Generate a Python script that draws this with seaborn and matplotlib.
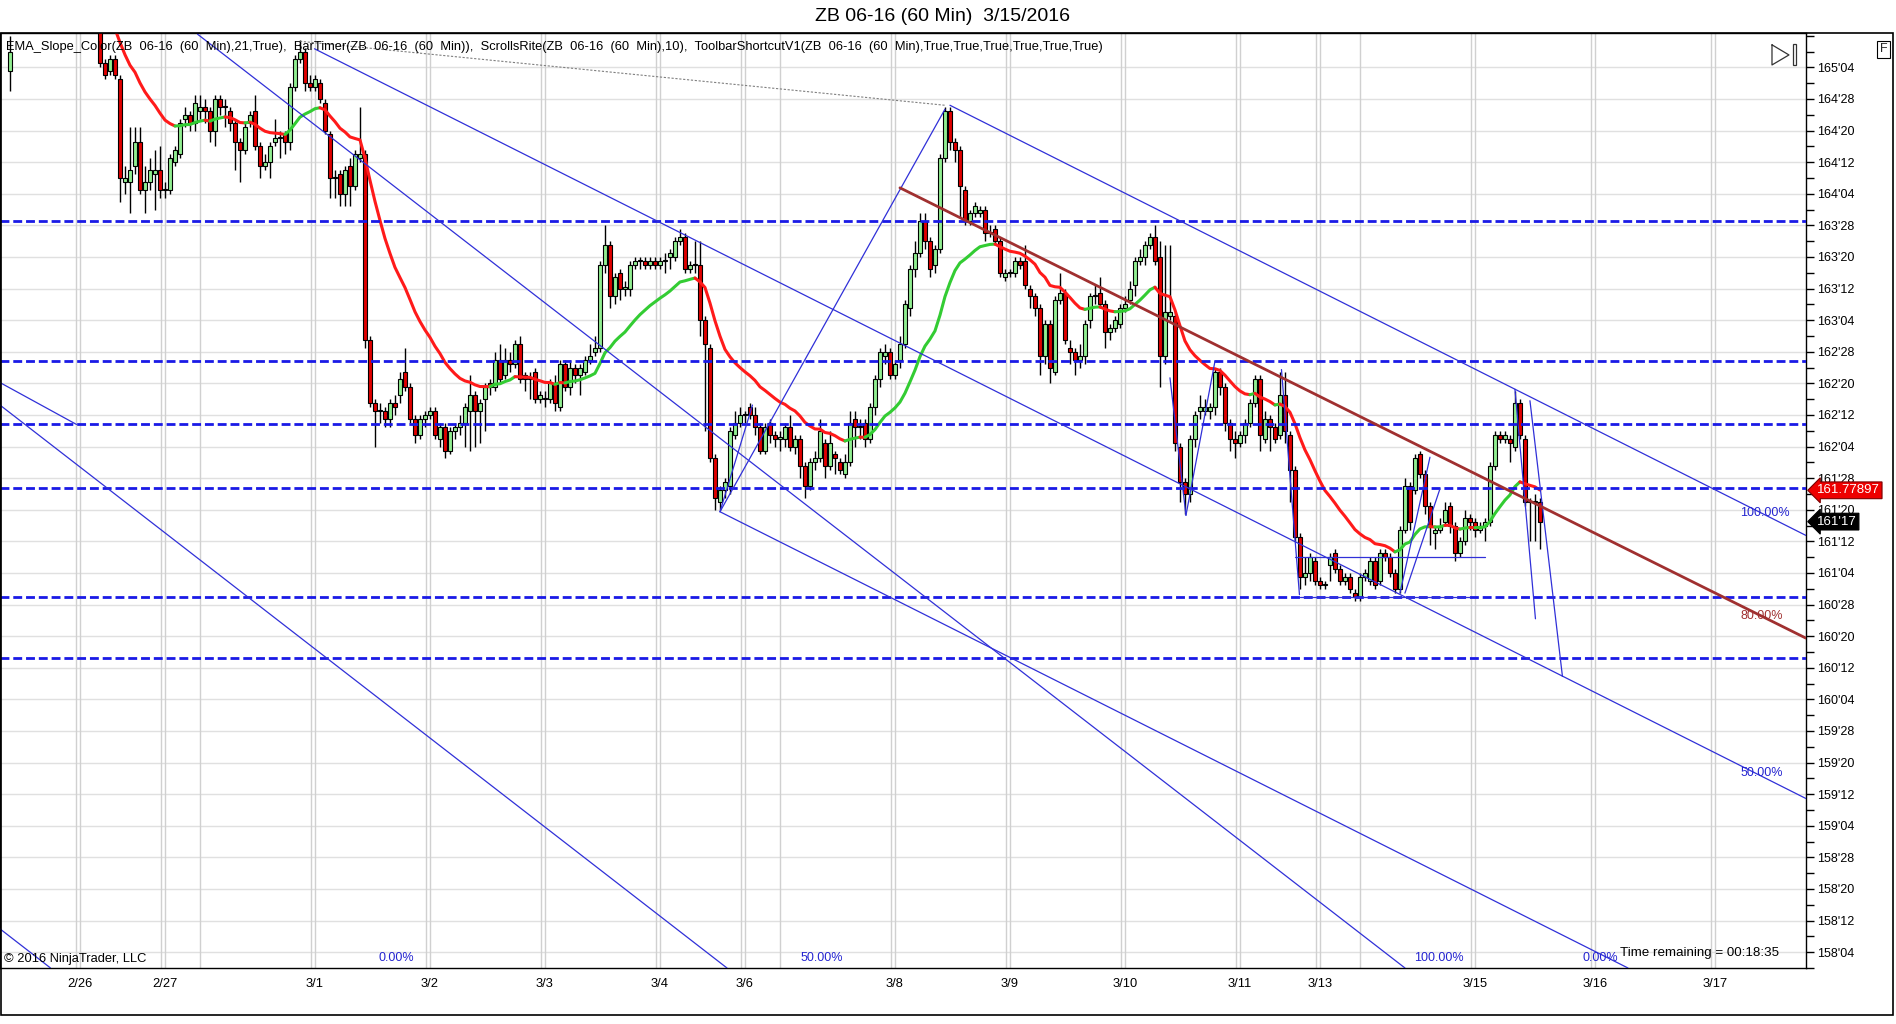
import numpy as np
import pandas as pd
import matplotlib
matplotlib.use("Agg")
import matplotlib.pyplot as plt
import matplotlib.transforms as mtransforms
from matplotlib.patches import Rectangle
import seaborn as sns

# hourly ZB bars, prices in 32nds above 158'00
bar_open = [
    240, 241, 227, 238, 241, 243, 242, 244, 246, 245,
    247, 246, 244, 245, 243, 244, 242, 243, 241, 242,
    237, 229, 227, 230, 225, 199, 199, 203, 209, 197,
    199, 201, 202, 197, 197, 204, 206, 215, 216, 214,
    217, 218, 217, 212, 220, 218, 217, 214, 209, 207,
    214, 217, 208, 203, 204, 209, 210, 211, 209, 223,
    230, 232, 224, 223, 224, 219, 211, 200, 201, 196,
    203, 198, 205, 206, 159, 143, 141, 141, 139, 143,
    145, 151, 147, 139, 135, 139, 140, 141, 134, 137,
    131, 136, 137, 138, 141, 145, 141, 144, 148, 147,
    154, 150, 154, 153, 158, 150, 149, 151, 144, 144,
    144, 148, 142, 153, 147, 152, 150, 151, 154, 156,
    157, 178, 183, 170, 176, 172, 172, 178, 179, 179,
    178, 179, 178, 179, 180, 180, 184, 185, 177, 178,
    178, 164, 157, 129, 118, 121, 122, 135, 138, 140,
    142, 140, 137, 131, 138, 135, 134, 134, 137, 132,
    134, 127, 122, 128, 129, 133, 127, 130, 128, 125,
    128, 139, 137, 138, 134, 142, 149, 155, 156, 150,
    154, 158, 167, 177, 181, 189, 184, 178, 182, 205,
    217, 209, 207, 197, 189, 191, 191, 192, 186, 187,
    184, 175, 176, 176, 179, 179, 172, 170, 167, 155,
    163, 151, 169, 171, 157, 156, 154, 155, 164, 170,
    171, 168, 161, 162, 163, 167, 169, 173, 179, 180,
    183, 185, 180, 155, 165, 165, 132, 123, 120, 134,
    141, 141, 141, 142, 151, 147, 138, 134, 133, 135,
    138, 143, 149, 134, 139, 137, 135, 145, 135, 126,
    109, 99, 100, 103, 98, 97, 102, 105, 101, 98,
    99, 95, 94, 99, 98, 103, 98, 105, 104, 100,
    96, 111, 122, 121, 130, 125, 117, 110, 111, 113,
    117, 112, 105, 108, 114, 113, 111, 112, 113, 127,
    135, 134, 134, 132, 143, 134, 118, 118, 118,
]
bar_close = [
    241, 239, 232, 241, 243, 242, 244, 246, 245, 247,
    246, 244, 245, 243, 244, 242, 243, 241, 242, 240,
    229, 226, 230, 226, 200, 200, 202, 209, 197, 199,
    202, 202, 197, 197, 205, 207, 214, 216, 214, 219,
    218, 217, 212, 220, 218, 218, 214, 209, 207, 213,
    216, 208, 203, 204, 208, 210, 210, 209, 223, 230,
    232, 224, 223, 225, 220, 212, 200, 200, 196, 202,
    198, 206, 206, 159, 143, 141, 141, 139, 143, 142,
    149, 147, 139, 135, 139, 140, 141, 135, 137, 131,
    136, 137, 138, 142, 145, 141, 143, 147, 147, 154,
    149, 154, 153, 158, 149, 149, 149, 144, 145, 144,
    148, 143, 153, 147, 152, 150, 152, 154, 155, 157,
    178, 183, 170, 175, 172, 172, 178, 179, 179, 178,
    179, 178, 179, 179, 181, 184, 185, 177, 178, 178,
    164, 158, 129, 119, 121, 123, 136, 138, 140, 140,
    140, 137, 131, 137, 135, 134, 134, 137, 132, 134,
    127, 122, 128, 129, 136, 127, 133, 129, 126, 128,
    138, 137, 137, 134, 142, 149, 156, 156, 150, 153,
    158, 168, 177, 181, 189, 184, 177, 182, 205, 217,
    209, 207, 198, 189, 191, 193, 192, 186, 186, 184,
    176, 176, 176, 179, 178, 173, 170, 167, 155, 163,
    152, 169, 171, 159, 156, 154, 155, 163, 170, 170,
    168, 161, 162, 164, 167, 168, 172, 179, 180, 183,
    185, 179, 155, 166, 166, 133, 123, 120, 134, 140,
    142, 142, 142, 151, 147, 138, 134, 133, 135, 138,
    143, 149, 135, 139, 137, 134, 145, 136, 126, 109,
    99, 100, 104, 98, 97, 97, 104, 101, 98, 99,
    96, 94, 99, 100, 103, 97, 105, 104, 100, 96,
    111, 122, 113, 129, 125, 117, 112, 111, 112, 116,
    112, 105, 108, 114, 113, 111, 112, 113, 127, 135,
    134, 135, 133, 143, 135, 118, 118, 118, 113,
]
bar_high = [
    243, 242, 236, 243, 245, 245, 246, 248, 248, 249,
    249, 247, 247, 246, 246, 245, 245, 244, 244, 243,
    240, 230, 231, 231, 226, 203, 213, 213, 213, 203,
    205, 207, 208, 199, 206, 208, 215, 218, 217, 221,
    221, 220, 218, 221, 221, 220, 218, 215, 210, 214,
    217, 221, 209, 206, 209, 215, 212, 212, 224, 231,
    235, 233, 226, 226, 225, 220, 212, 202, 202, 203,
    205, 207, 218, 207, 160, 144, 143, 142, 144, 145,
    151, 157, 148, 140, 140, 141, 142, 142, 138, 138,
    137, 138, 140, 143, 150, 146, 144, 148, 149, 156,
    158, 157, 156, 159, 160, 151, 151, 152, 146, 146,
    149, 150, 154, 154, 154, 153, 153, 155, 158, 160,
    179, 188, 184, 176, 177, 174, 179, 180, 180, 180,
    180, 180, 180, 181, 182, 185, 187, 186, 179, 184,
    184, 165, 158, 130, 122, 124, 137, 141, 142, 141,
    143, 142, 138, 138, 139, 136, 136, 138, 140, 135,
    135, 128, 129, 131, 139, 134, 136, 131, 129, 130,
    141, 141, 139, 139, 143, 150, 157, 158, 157, 154,
    160, 169, 178, 184, 191, 191, 185, 183, 206, 218,
    218, 210, 208, 198, 192, 194, 193, 193, 188, 188,
    185, 177, 177, 180, 180, 183, 173, 171, 168, 164,
    164, 170, 176, 172, 159, 157, 158, 164, 171, 173,
    175, 169, 163, 165, 168, 170, 174, 180, 182, 184,
    186, 188, 184, 183, 183, 166, 133, 124, 135, 141,
    145, 144, 143, 152, 152, 148, 139, 136, 136, 139,
    144, 150, 150, 141, 140, 138, 151, 151, 136, 127,
    110, 104, 105, 104, 99, 98, 105, 106, 102, 100,
    100, 96, 100, 101, 104, 104, 106, 106, 105, 101,
    112, 124, 123, 130, 131, 126, 118, 112, 114, 118,
    118, 113, 109, 116, 115, 114, 113, 114, 128, 136,
    136, 136, 135, 146, 144, 135, 119, 120, 119,
]
bar_low = [
    238, 238, 222, 238, 240, 240, 241, 243, 243, 244,
    244, 242, 242, 241, 241, 240, 240, 239, 239, 238,
    228, 225, 226, 225, 194, 196, 191, 201, 196, 191,
    197, 192, 195, 195, 196, 203, 205, 213, 212, 212,
    215, 214, 209, 208, 216, 213, 212, 202, 199, 206,
    213, 207, 200, 202, 200, 208, 205, 206, 207, 222,
    229, 222, 222, 222, 219, 211, 195, 195, 193, 193,
    193, 197, 204, 157, 142, 132, 138, 137, 137, 140,
    143, 146, 138, 133, 134, 137, 139, 134, 132, 129,
    130, 134, 135, 132, 131, 132, 133, 136, 145, 146,
    148, 149, 151, 152, 148, 146, 144, 143, 143, 142,
    143, 141, 141, 146, 145, 148, 145, 150, 153, 155,
    156, 176, 167, 168, 169, 170, 170, 177, 177, 177,
    177, 177, 177, 176, 177, 179, 183, 176, 176, 176,
    160, 136, 128, 116, 116, 119, 120, 134, 137, 138,
    139, 135, 130, 130, 133, 132, 131, 132, 131, 130,
    124, 119, 121, 126, 128, 124, 126, 125, 125, 124,
    127, 132, 134, 132, 133, 140, 147, 153, 149, 149,
    152, 157, 165, 175, 180, 182, 175, 176, 181, 204,
    207, 204, 190, 188, 188, 190, 190, 184, 185, 183,
    175, 174, 175, 175, 177, 172, 167, 165, 150, 153,
    148, 150, 168, 158, 153, 150, 152, 153, 162, 168,
    167, 157, 159, 161, 162, 166, 168, 170, 178, 178,
    182, 178, 147, 153, 164, 131, 118, 115, 118, 132,
    139, 140, 139, 140, 145, 136, 131, 129, 132, 133,
    137, 142, 131, 133, 131, 133, 134, 133, 118, 108,
    96, 97, 98, 97, 96, 96, 98, 100, 97, 97,
    95, 93, 93, 98, 97, 96, 97, 103, 99, 95,
    95, 110, 111, 120, 124, 115, 107, 106, 110, 112,
    110, 103, 104, 107, 111, 109, 110, 108, 112, 126,
    133, 133, 128, 131, 134, 117, 108, 108, 106,
]

day_ticks = [16, 33, 63, 86, 109, 132, 149, 179, 202, 225, 248, 264, 295, 319, 343]
day_labels = ["2/26", "2/27", "3/1", "3/2", "3/3", "3/4", "3/6", "3/8",
              "3/9", "3/10", "3/11", "3/13", "3/15", "3/16", "3/17"]
half_ticks = [40, 156, 272]

# horizontal levels drawn on the chart (32nds above 158)
levels = [189.1, 153.6, 137.8, 121.5, 93.9, 78.6]
ema_label = 161.77897
last_label = "161'17"

# drawing-tool lines as (bar, 32nds) anchor pairs
blue_lines = [
    ((39.5, 236.4), (281.0, 0.0)),
    ((0.0, 142.5), (145.4, 0.0)),
    ((0.0, 9.9), (10.1, 0.0)),
    ((0.0, 148.2), (15.3, 137.6)),
    ((62.9, 232.7), (361.2, 42.9)),
    ((190.0, 218.4), (361.2, 109.5)),
    ((144.0, 115.5), (325.6, 0.0)),
    ((144.0, 115.5), (189.0, 217.4)),
    ((144.0, 115.5), (150.5, 142.5)),
    ((234.0, 149.4), (237.2, 114.6)),
    ((237.2, 114.6), (243.0, 153.6)),
    ((256.3, 151.5), (259.9, 94.5)),
    ((280.0, 94.9), (286.0, 129.3)),
    ((281.0, 94.9), (288.0, 121.3)),
    ((259.0, 104.1), (297.0, 104.1)),
    ((260.0, 93.9), (294.0, 93.9)),
    ((303.0, 146.5), (307.1, 88.4)),
    ((306.0, 143.6), (312.5, 73.8)),
]
brown_line = ((180.0, 197.5), (361.2, 83.5))
dotted_line = ((60.0, 234.6), (189.0, 218.4))
pct_labels = [("0.00%", 79.3, 2.6), ("50.00%", 164.4, 2.6), ("100.00%", 287.8, 2.6),
              ("0.00%", 320.0, 2.6), ("100.00%", 353.0, 115.2), ("50.00%", 352.4, 49.4)]
pct_red = ("80.00%", 352.4, 89.0)


def fmt32(t):
    t = int(round(t))
    return f"{158 + t // 32}'{t % 32:02d}"


df = pd.DataFrame({"open": bar_open, "close": bar_close, "high": bar_high, "low": bar_low})
df["bar"] = np.arange(len(df))
df["high"] = df[["high", "open", "close"]].max(axis=1)
df["low"] = df[["low", "open", "close"]].min(axis=1)
df["ema"] = df["close"].ewm(span=21, adjust=False).mean()

sns.set_theme(style="white")
plt.rcParams["font.family"] = ["Liberation Sans", "DejaVu Sans"]
narrow = ["Liberation Sans Narrow", "Liberation Sans", "DejaVu Sans"]

fig = plt.figure(figsize=(18.96, 10.24), dpi=100)
ax = fig.add_axes([0.0, 0.0547, 0.9525, 0.9131])
ax.set_xlim(0, 361.2)
ax.set_ylim(1.5, 236.7)

# grid
major_y = list(range(4, 229, 8))
for t in major_y:
    ax.axhline(t, color="#e0e0e0", lw=1, zorder=0)
for x in day_ticks:
    ax.axvline(x, color="#d0d0d0", lw=1, zorder=0)
    ax.axvline(x - 0.8, color="#d0d0d0", lw=1, zorder=0)
for x in half_ticks:
    ax.axvline(x, color="#d0d0d0", lw=1, zorder=0)

# candles
up = df["close"] >= df["open"]
body_lo = df[["open", "close"]].min(axis=1)
body_h = (df["close"] - df["open"]).abs().clip(lower=0.3)
ax.vlines(df["bar"], df["low"], df["high"], color="black", lw=1, zorder=2)
ax.bar(df["bar"], body_h, bottom=body_lo, width=0.8,
       color=np.where(up, "#90ee90", "#e00000"), edgecolor="black", linewidth=0.8, zorder=3)

# EMA coloured by slope
rising = (df["ema"].diff().fillna(0) >= 0).to_numpy()
start = 1
for i in range(2, len(df) + 1):
    if i == len(df) or rising[i] != rising[start]:
        seg = df.iloc[start - 1:i]
        sns.lineplot(x=seg["bar"], y=seg["ema"], ax=ax, color="#33cc33" if rising[start] else "#ff1a1a",
                     lw=2.2, estimator=None, sort=False, legend=False, zorder=4)
        start = i

# levels and drawings
for lv in levels:
    ax.axhline(lv, color="#1a1ae6", lw=2, ls=(0, (3.2, 1.4)), zorder=5)
for (x0, y0), (x1, y1) in blue_lines:
    ax.plot([x0, x1], [y0, y1], color="#3030d8", lw=0.9, zorder=6)
(x0, y0), (x1, y1) = brown_line
ax.plot([x0, x1], [y0, y1], color="#a03030", lw=2, zorder=6)
(x0, y0), (x1, y1) = dotted_line
ax.plot([x0, x1], [y0, y1], color="#808080", lw=0.8, ls=(0, (2, 1.5)), zorder=6)
for txt, x, y in pct_labels:
    ax.text(x, y, txt, color="#2424d0", fontsize=9, ha="center", va="center", family=narrow, zorder=7)
ax.text(pct_red[1], pct_red[2], pct_red[0], color="#a03030", fontsize=9, ha="center", va="center",
        family=narrow, zorder=7)

# axes styling
ax.yaxis.tick_right()
ax.set_yticks(major_y)
ax.set_yticklabels([fmt32(t) for t in major_y])
ax.set_yticks([t for t in range(0, 237, 4) if t not in major_y], minor=True)
ax.tick_params(axis="y", which="both", direction="out", length=6, width=1, color="black",
               labelsize=9, pad=2, labelcolor="black")
ax.set_xticks(day_ticks)
ax.set_xticklabels(day_labels)
ax.set_xticks(half_ticks, minor=True)
ax.tick_params(axis="x", which="major", length=0, pad=7, labelsize=9.3, labelcolor="black")
ax.tick_params(axis="x", which="minor", direction="out", length=6, width=1, color="black")
for s in ax.spines.values():
    s.set_color("black")
    s.set_linewidth(1)
ax.set_xlabel("")
ax.set_ylabel("")

# price markers in the right margin
tr = mtransforms.blended_transform_factory(ax.transAxes, ax.transData)
ax.text(1.006, (ema_label - 158) * 32, f"{ema_label:.5f}", transform=tr, ha="left", va="center",
        color="white", fontsize=9.5, clip_on=False, zorder=10,
        bbox=dict(boxstyle="larrow,pad=0.18", fc="#ee0000", ec="#7a0000", lw=0.8))
ax.text(1.006, 113, last_label, transform=tr, ha="left", va="center", color="white", fontsize=9.5,
        clip_on=False, zorder=10, bbox=dict(boxstyle="larrow,pad=0.18", fc="black", ec="black", lw=0.8))

# texts
ax.text(0.0033, 0.985, "EMA_Slope_Color(ZB  06-16  (60  Min),21,True),  BarTimer(ZB  06-16  (60  Min)),  "
        "ScrollsRite(ZB  06-16  (60  Min),10),  ToolbarShortcutV1(ZB  06-16  (60  Min),True,True,True,True,True,True)",
        transform=ax.transAxes, ha="left", va="center", fontsize=9.3, family=narrow, color="black", zorder=8)
ax.text(0.0022, 0.0096, "\u00a9 2016 NinjaTrader, LLC", transform=ax.transAxes, ha="left", va="center",
        fontsize=9.3, family=narrow, color="black", zorder=8)
ax.text(0.897, 0.0155, "Time remaining = 00:18:35", transform=ax.transAxes, ha="left", va="center",
        fontsize=9.6, family=narrow, color="black", zorder=8)
fig.text(0.497, 0.984, "ZB 06-16 (60 Min)  3/15/2016", ha="center", va="center", fontsize=14, color="black")

# scroll icon and F box
ax.plot([0.9812, 0.9906, 0.9812, 0.9812], [0.9873, 0.9765, 0.9658, 0.9873], transform=ax.transAxes,
        color="#333333", lw=0.9, clip_on=False, zorder=9)
ax.add_patch(Rectangle((0.9928, 0.9658), 0.0018, 0.0225, transform=ax.transAxes, fill=False,
                       ec="#333333", lw=0.9, clip_on=False, zorder=9))
fig.text(0.9935, 0.952, "F", ha="center", va="center", fontsize=9,
         bbox=dict(boxstyle="square,pad=0.2", fc="white", ec="black", lw=0.8))
fig.add_artist(Rectangle((0.0005, 0.0088), 0.9979, 0.9590, transform=fig.transFigure, fill=False,
                         ec="black", lw=1.2))

fig.savefig("out.png", dpi=100)
